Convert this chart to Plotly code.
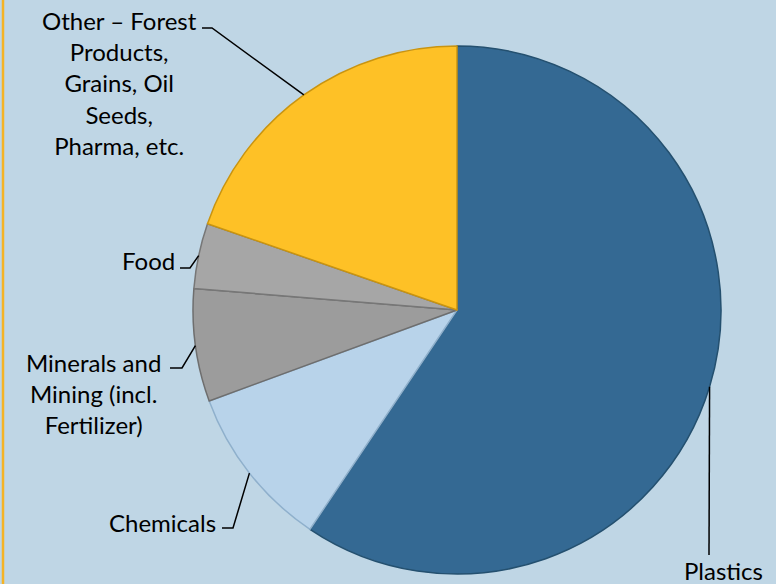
import math
import plotly.graph_objects as go

W, H = 776, 584

labels = ["Plastics", "Chemicals", "Minerals and Mining (incl. Fertilizer)", "Food",
          "Other – Forest Products, Grains, Oil Seeds, Pharma, etc."]
display_text = ["Plastics", "Chemicals", "Minerals and<br>Mining (incl.<br>Fertilizer)", "Food",
                "Other – Forest<br>Products,<br>Grains, Oil<br>Seeds,<br>Pharma, etc."]
values = [59.4, 10.0, 6.9, 4.0, 19.7]
colors = ["#346993", "#b8d3ea", "#9c9c9c", "#a6a6a6", "#fec126"]
edge_colors = ["#24506f", "#8fb0cc", "#6e6e6e", "#777777", "#c99410"]

# pie geometry (pixels)
cx, cy, R = 457, 310, 264

# label layout: text centre (px), elbow point (px), end of horizontal tick (px)
label_layout = [
    dict(text=(723, 570), elbow=None, tick=(709, 555)),
    dict(text=(162, 522), elbow=(233, 528), tick=(222, 528)),
    dict(text=(93, 393), elbow=(182, 368), tick=(170, 368)),
    dict(text=(148, 260), elbow=(190, 268), tick=(180, 268)),
    dict(text=(119, 83), elbow=(212, 28), tick=(202, 28)),
]


def px(x, y):
    return x / W, 1 - y / H


fig = go.Figure()
fig.add_trace(go.Pie(
    labels=labels,
    values=values,
    sort=False,
    direction="clockwise",
    rotation=0,
    textinfo="none",
    hoverinfo="label+percent",
    marker=dict(colors=colors, line=dict(color=edge_colors, width=1.5)),
    domain=dict(x=[(cx - R) / W, (cx + R) / W], y=[1 - (cy + R) / H, 1 - (cy - R) / H]),
    showlegend=False,
))

total = sum(values)
cum = 0.0
shapes = []
annotations = []
for v, txt, lay in zip(values, display_text, label_layout):
    mid = (cum + v / 2) / total * 2 * math.pi
    cum += v
    ex = cx + R * math.sin(mid)
    ey = cy - R * math.cos(mid)
    pts = [(ex, ey)]
    if lay["elbow"] is not None:
        pts.append(lay["elbow"])
    pts.append(lay["tick"])
    path = ""
    for i, (x, y) in enumerate(pts):
        xp, yp = px(x, y)
        path += ("M" if i == 0 else " L") + f"{xp:.5f},{yp:.5f}"
    shapes.append(dict(type="path", xref="paper", yref="paper", path=path,
                       line=dict(color="black", width=1.5)))
    tx, ty = px(*lay["text"])
    annotations.append(dict(x=tx, y=ty, xref="paper", yref="paper", text=txt,
                            showarrow=False, xanchor="center", yanchor="middle",
                            align="center",
                            font=dict(family="Lato, Open Sans, sans-serif", size=24, color="black")))

# left orange border
shapes.append(dict(type="line", xref="paper", yref="paper", x0=3 / W, x1=3 / W, y0=0, y1=1,
                   line=dict(color="#f5b324", width=2.5)))

fig.update_layout(
    width=W, height=H,
    margin=dict(l=0, r=0, t=0, b=0),
    paper_bgcolor="#bfd6e5",
    plot_bgcolor="#bfd6e5",
    shapes=shapes,
    annotations=annotations,
)

fig.write_html("out.html")
